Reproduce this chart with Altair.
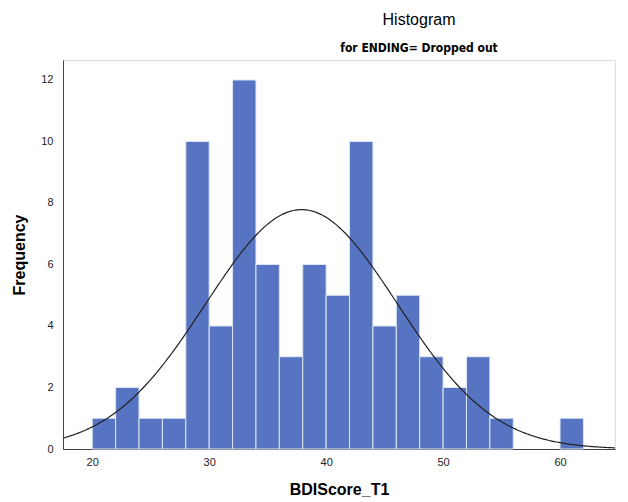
import altair as alt
import pandas as pd

bin_start = [20, 22, 24, 26, 28, 30, 32, 34, 36, 38, 40, 42, 44, 46, 48, 50, 52, 54, 56, 58, 60]
counts    = [1, 2, 1, 1, 10, 4, 12, 6, 3, 6, 5, 10, 4, 5, 3, 2, 3, 1, 0, 0, 1]
bin_width = 2
mean_val = 37.9
sd_val = 8.2
n_total = sum(counts)

bars_df = pd.DataFrame({
    "start": bin_start,
    "end": [b + bin_width for b in bin_start],
    "count": counts,
})
bars_df = bars_df[bars_df["count"] > 0]

x_scale = alt.Scale(domain=[17.5, 64.7], nice=False, zero=False)
y_scale = alt.Scale(domain=[0, 12.65], nice=False)

x_axis = alt.Axis(values=[20, 30, 40, 50, 60], grid=False, ticks=False, labelPadding=7,
                  title="BDIScore_T1", titleFontSize=16, titleFontWeight="bold",
                  titlePadding=14, titleColor="#000", labelFontSize=11, labelColor="#222",
                  domainColor="#444", labelFont="Liberation Sans", titleFont="Liberation Sans")
y_axis = alt.Axis(values=[0, 2, 4, 6, 8, 10, 12], grid=False, ticks=False, labelPadding=10,
                  title="Frequency", titleFontSize=16, titleFontWeight="bold",
                  titlePadding=13, titleColor="#000", labelFontSize=11, labelColor="#222",
                  domainColor="#444", labelFont="Liberation Sans", titleFont="Liberation Sans")

bars = alt.Chart(bars_df).mark_rect(fill="#5674C2", stroke="#dfe5f3", strokeWidth=1).encode(
    x=alt.X("start:Q", scale=x_scale, axis=x_axis),
    x2="end:Q",
    y=alt.Y("count:Q", scale=y_scale, axis=y_axis),
    y2=alt.datum(0),
)

curve = alt.Chart(alt.sequence(17.5, 64.71, 0.1, as_="x")).transform_calculate(
    y=f"{n_total}*{bin_width}/({sd_val}*sqrt(2*PI))*exp(-0.5*pow((datum.x-{mean_val})/{sd_val},2))"
).mark_line(color="#222", strokeWidth=1.2).encode(
    x=alt.X("x:Q", scale=x_scale),
    y=alt.Y("y:Q", scale=y_scale),
)

chart = alt.layer(bars, curve).properties(
    width=552, height=389,
    autosize=alt.AutoSizeParams(type="none"),
    padding={"left": 63, "top": 60, "right": 13, "bottom": 53},
    title=alt.TitleParams(
        text="Histogram",
        subtitle="for ENDING= Dropped out",
        font="Liberation Sans", fontSize=16, fontWeight="normal", color="#000",
        subtitleFont="'DejaVu Sans Condensed', 'Liberation Sans', sans-serif",
        subtitleFontSize=12, subtitleFontWeight="bold",
        subtitleColor="#000", subtitlePadding=15,
        anchor="middle", dx=80, offset=6,
    ),
).configure_view(stroke=None).configure(background="white")

chart.save("out.html", embed_options={"renderer": "svg", "actions": False})
